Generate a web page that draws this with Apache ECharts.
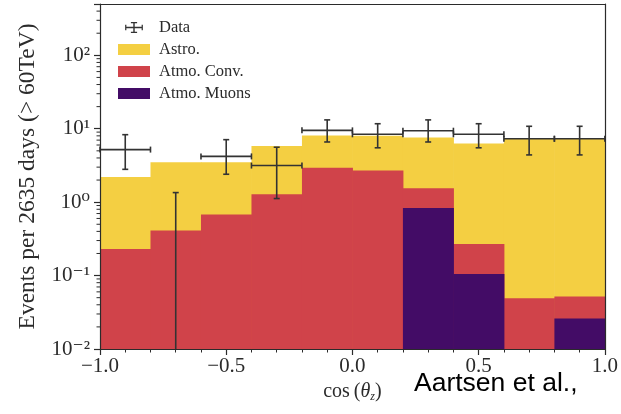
<!DOCTYPE html>
<html lang="en">
<head>
  <meta charset="UTF-8" />
  <title>Events vs cos(theta_z)</title>
  <script src="https://cdn.jsdelivr.net/npm/echarts@6/dist/echarts.min.js"></script>
  <style>
    html, body { margin: 0; background: #fff; }
    #chart { width: 621px; height: 414px; }
  </style>
</head>
<body>
  <div id="chart"></div>

  <script>
    // bin edges in cos(theta_z)
    const binEdges = [-1.0, -0.8, -0.6, -0.4, -0.2, 0.0, 0.2, 0.4, 0.6, 0.8, 1.0];
    // drawn tops of each filled layer (layers overlap, not stacked by the library)
    const astroTop = [2.2, 3.5, 3.5, 5.8, 8.1, 8.0, 7.6, 6.3, 7.3, 7.3];
    const convTop  = [0.23, 0.41, 0.68, 1.28, 2.95, 2.7, 1.55, 0.27, 0.049, 0.052];
    const muonTop  = [0, 0, 0, 0, 0, 0, 0.83, 0.105, 0, 0.026];
    // data points with asymmetric errors
    const dataVal = [5.2, 0, 4.2, 3.15, 9.5, 8.4, 9.4, 8.4, 7.3, 7.3];
    const dataLo  = [2.8, 0, 2.4, 1.12, 6.6, 5.5, 6.6, 5.5, 4.4, 4.4];
    const dataHi  = [8.3, 1.35, 7.1, 5.6, 13.2, 11.7, 13.2, 11.7, 10.8, 10.8];

    const yMin = 0.01, yMax = 500;
    const yDecades = [-2, -1, 0, 1, 2];
    const minorMult = [2, 3, 4, 5, 6, 7, 8, 9];

    const serif = '"Liberation Serif", "DejaVu Serif", serif';
    const ink = '#2b2b2b';
    const colors = { astro: '#F4CF42', conv: '#D0434A', muon: '#430C66', data: '#333333' };

    const minorY = [];
    yDecades.forEach(k => minorMult.forEach(m => {
      const v = m * Math.pow(10, k);
      if (v < yMax) minorY.push(v);
    }));

    const supMap = { '-': '\u207B', '0': '\u2070', '1': '\u00B9', '2': '\u00B2' };

    function histSeries(name, tops, color) {
      return {
        name: name,
        type: 'custom',
        clip: true,
        itemStyle: { color: color },
        encode: { x: [0, 1], y: 2 },
        data: tops.map((v, i) => [binEdges[i], binEdges[i + 1], v]),
        renderItem: function (params, api) {
          const v = api.value(2);
          if (!(v > yMin)) return null;
          const p0 = api.coord([api.value(0), v]);
          const p1 = api.coord([api.value(1), yMin]);
          return {
            type: 'rect',
            shape: { x: p0[0], y: p0[1], width: p1[0] - p0[0] + 0.5, height: p1[1] - p0[1] },
            style: { fill: color }
          };
        }
      };
    }

    const chart = echarts.init(document.getElementById('chart'));

    const option = {
      animation: false,
      grid: { left: 100, right: 14, top: 4, bottom: 65 },
      legend: {
        data: [
          { name: 'Data', icon: 'path://M0,5.4h20v1.6h-20z M9.2,0h1.6v12.4h-1.6z M6.5,0h7v1.4h-7z M6.5,11h7v1.4h-7z M0,3h1.4v6.4h-1.4z M18.6,3h1.4v6.4h-1.4z' },
          { name: 'Astro.', icon: 'rect' },
          { name: 'Atmo. Conv.', icon: 'rect' },
          { name: 'Atmo. Muons', icon: 'rect' }
        ],
        orient: 'vertical',
        left: 113,
        top: 14,
        itemWidth: 32,
        itemHeight: 11,
        itemGap: 5,
        selectedMode: false,
        textStyle: { fontFamily: serif, fontSize: 16.5, color: ink, padding: [0, 0, 0, 4] }
      },
      xAxis: [{
        type: 'value',
        min: -1,
        max: 1,
        interval: 0.5,
        z: 10,
        axisLine: { show: true, onZero: false, lineStyle: { color: ink, width: 1.2 } },
        axisTick: { show: true, inside: false, length: 6, lineStyle: { color: ink, width: 1.2 } },
        minorTick: { show: true, splitNumber: 5, length: 3.5, lineStyle: { color: ink, width: 1 } },
        splitLine: { show: false },
        minorSplitLine: { show: false },
        axisLabel: {
          fontFamily: serif, fontSize: 21, color: ink, margin: 7,
          formatter: v => (v < 0 ? '\u2212' : '') + Math.abs(v).toFixed(1)
        },
        name: '{a|cos\u2009(}{t|\u03B8}{s|z}{a|)}',
        nameLocation: 'middle',
        nameGap: 31,
        nameTextStyle: {
          rich: {
            a: { fontFamily: serif, fontSize: 20, color: ink, lineHeight: 22 },
            t: { fontFamily: serif, fontSize: 20, fontStyle: 'italic', color: ink, lineHeight: 22 },
            s: { fontFamily: serif, fontSize: 12, fontStyle: 'italic', color: ink, verticalAlign: 'bottom', lineHeight: 22 }
          }
        }
      }, {
        type: 'value',
        min: -1,
        max: 1,
        position: 'top',
        z: 10,
        axisLine: { show: true, onZero: false, lineStyle: { color: ink, width: 1.2 } },
        axisTick: { show: false },
        axisLabel: { show: false },
        splitLine: { show: false }
      }],
      yAxis: [{
        type: 'log',
        logBase: 10,
        min: yMin,
        max: yMax,
        z: 10,
        axisLine: { show: true, onZero: false, lineStyle: { color: ink, width: 1.2 } },
        axisTick: { show: true, inside: false, length: 6, lineStyle: { color: ink, width: 1.2 } },
        splitLine: { show: false },
        axisLabel: {
          margin: 10,
          formatter: function (v) {
            const k = Math.log10(v);
            if (Math.abs(k - Math.round(k)) > 1e-6) return '';
            const e = String(Math.round(k)).split('').map(c => supMap[c]).join('');
            return '{b|10}{s|' + e + '}';
          },
          rich: {
            b: { fontFamily: serif, fontSize: 21, color: ink, lineHeight: 24 },
            s: { fontFamily: serif, fontSize: 21, color: ink, lineHeight: 24 }
          }
        },
        name: 'Events per 2635 days (> 60TeV)',
        nameLocation: 'middle',
        nameGap: 60,
        nameTextStyle: { fontFamily: serif, fontSize: 23.5, color: ink }
      }, {
        type: 'log',
        logBase: 10,
        min: yMin,
        max: yMax,
        position: 'right',
        z: 10,
        axisLine: { show: true, onZero: false, lineStyle: { color: ink, width: 1.2 } },
        axisTick: { show: false },
        axisLabel: { show: false },
        splitLine: { show: false }
      }],
      series: [
        histSeries('Astro.', astroTop, colors.astro),
        histSeries('Atmo. Conv.', convTop, colors.conv),
        histSeries('Atmo. Muons', muonTop, colors.muon),
        {
          name: 'Data',
          type: 'custom',
          clip: false,
          z: 5,
          itemStyle: { color: colors.data },
          encode: { x: 0, y: 1 },
          data: dataVal.map((v, i) => [
            (binEdges[i] + binEdges[i + 1]) / 2, v, dataLo[i], dataHi[i], binEdges[i], binEdges[i + 1]
          ]),
          renderItem: function (params, api) {
            const xc = api.value(0), v = api.value(1);
            const lo = api.value(2), hi = api.value(3);
            const st = { stroke: colors.data, lineWidth: 1.6 };
            const cap = 3;
            const top = api.coord([xc, hi]);
            const bot = api.coord([xc, Math.max(lo, yMin)]);
            const kids = [
              { type: 'line', shape: { x1: top[0], y1: top[1], x2: bot[0], y2: bot[1] }, style: st },
              { type: 'line', shape: { x1: top[0] - cap, y1: top[1], x2: top[0] + cap, y2: top[1] }, style: st }
            ];
            if (lo > yMin) {
              kids.push({ type: 'line', shape: { x1: bot[0] - cap, y1: bot[1], x2: bot[0] + cap, y2: bot[1] }, style: st });
            }
            if (v > yMin) {
              const l = api.coord([api.value(4), v]);
              const r = api.coord([api.value(5), v]);
              kids.push(
                { type: 'line', shape: { x1: l[0], y1: l[1], x2: r[0], y2: r[1] }, style: st },
                { type: 'line', shape: { x1: l[0], y1: l[1] - cap, x2: l[0], y2: l[1] + cap }, style: st },
                { type: 'line', shape: { x1: r[0], y1: r[1] - cap, x2: r[0], y2: r[1] + cap }, style: st }
              );
            }
            return { type: 'group', children: kids };
          }
        },
        {
          // log minor ticks on the left axis
          type: 'custom',
          clip: false,
          silent: true,
          z: 10,
          encode: { x: 0, y: 1 },
          data: minorY.map(v => [-1, v]),
          renderItem: function (params, api) {
            const p = api.coord([api.value(0), api.value(1)]);
            return {
              type: 'line',
              shape: { x1: p[0] - 3.5, y1: p[1], x2: p[0], y2: p[1] },
              style: { stroke: ink, lineWidth: 1 }
            };
          }
        }
      ],
      graphic: [{
        type: 'text',
        left: 414,
        top: 370,
        style: { text: 'Aartsen et al.,', fontFamily: '"Liberation Sans", Arial, sans-serif', fontSize: 26.5, fill: '#000' }
      }]
    };

    chart.setOption(option);
  </script>
</body>
</html>
